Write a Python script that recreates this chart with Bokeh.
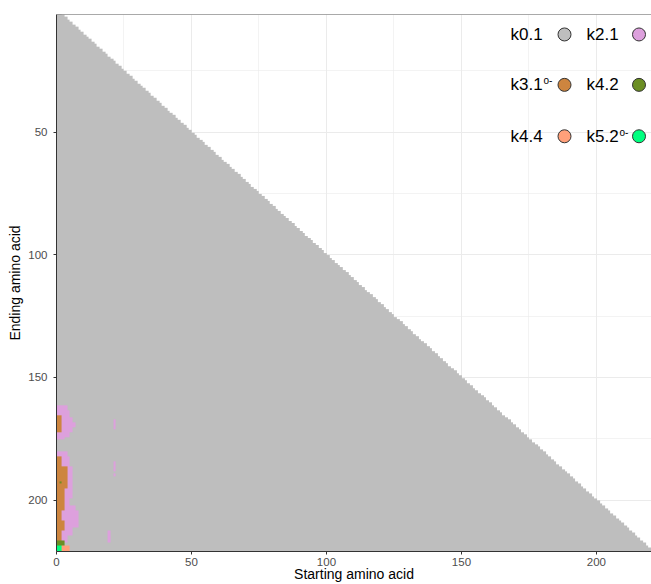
import numpy as np
from bokeh.plotting import figure
from bokeh.models import Range1d, FixedTicker, Span
from bokeh.core.properties import value
from bokeh.embed import file_html
from bokeh.resources import INLINE

# ---------------- data ----------------
seq_length = 221                      # residues; every (start <= end) cell is a fragment
class_labels = ["k0.1", "k2.1", "k3.1", "k4.2", "k4.4", "k5.2"]
class_superscripts = ["", "", "o-", "", "", "o-"]
class_colors = ["#BEBEBE", "#DDA0DD", "#CD853F", "#6B8E23", "#FFA07A", "#00FF7F"]

# blocks of cells (start from..to, end from..to) assigned to a class, painted in order
block_class = [1, 1, 1, 1, 1, 1, 1,
               1, 1, 1, 1, 1, 1, 1, 1, 1,
               1, 1, 1, 1,
               2, 2, 2, 2, 2, 2, 2, 2,
               3, 3, 4, 5]
block_start_from = [1, 1, 1, 1, 1, 1, 1,
                    1, 1, 1, 1, 1, 1, 1, 1, 1,
                    22, 22, 22, 20,
                    1, 1, 1, 1, 1, 1, 1, 1,
                    2, 1, 3, 1]
block_start_to = [4, 5, 6, 7, 6, 5, 3,
                  4, 5, 6, 6, 5, 7, 8, 6, 4,
                  22, 22, 22, 20,
                  2, 2, 4, 3, 3, 2, 3, 2,
                  2, 3, 5, 2]
block_end_from = [162, 164, 167, 169, 171, 173, 175,
                  181, 183, 187, 196, 200, 203, 205, 212, 215,
                  168, 185, 190, 213,
                  166, 183, 187, 196, 199, 205, 209, 213,
                  193, 217, 219, 219]
block_end_to = [163, 166, 168, 170, 172, 174, 175,
                182, 186, 195, 199, 202, 204, 211, 214, 217,
                171, 188, 190, 217,
                172, 186, 195, 198, 204, 208, 212, 216,
                193, 218, 221, 221]

x_tick_values = [0, 50, 100, 150, 200]
x_minor_values = [25, 75, 125, 175]
y_tick_values = [50, 100, 150, 200]
y_minor_values = [25, 75, 125, 175]

# ---------------- build the cell matrix ----------------
N = seq_length
cls = np.full((N, N), -1, dtype=int)          # rows: end-1, cols: start-1
starts, ends = np.meshgrid(np.arange(1, N + 1), np.arange(1, N + 1))
cls[starts <= ends] = 0
for c, s0, s1, e0, e1 in zip(block_class, block_start_from, block_start_to,
                             block_end_from, block_end_to):
    cls[e0 - 1:e1, s0 - 1:s1] = c

def hex_rgb(h):
    h = h.lstrip("#")
    return [int(h[i:i + 2], 16) for i in (0, 2, 4)]

rgba = np.zeros((N, N, 4), dtype=np.uint8)
for i, col in enumerate(class_colors):
    m = cls == i
    rgba[m, :3] = hex_rgb(col)
    rgba[m, 3] = 255
img = rgba.view(dtype=np.uint32).reshape((N, N))

# ---------------- figure ----------------
W, H = 651, 584
FL, FT = 56, 14
x_end = 220.4
y_top = 2
p = figure(width=W, height=H, x_range=Range1d(0, x_end), y_range=Range1d(N, y_top),
           output_backend="svg", toolbar_location=None,
           min_border_left=FL, min_border_right=0, min_border_top=FT, min_border_bottom=0)
p.background_fill_color = "white"
p.border_fill_color = "white"
p.outline_line_color = None

p.image_rgba(image=[img], x=0, y=0, dw=N, dh=N)

# axes
font = "Liberation Sans"
for ax, ticks, minors in ((p.xaxis, x_tick_values, x_minor_values),
                          (p.yaxis, y_tick_values, y_minor_values)):
    ax.ticker = FixedTicker(ticks=ticks, minor_ticks=minors)
    ax.axis_line_color = "#333333"
    ax.axis_line_width = 1
    ax.major_tick_line_color = "#333333"
    ax.major_tick_out = 3
    ax.major_tick_in = 0
    ax.minor_tick_line_color = None
    ax.major_label_text_font = font
    ax.major_label_text_font_size = "11.5px"
    ax.major_label_text_color = "#4D4D4D"
    ax.axis_label_text_font = font
    ax.axis_label_text_font_size = "14px"
    ax.axis_label_text_font_style = "normal"
    ax.axis_label_text_color = "black"
p.xaxis.axis_label = "Starting amino acid"
p.yaxis.axis_label = "Ending amino acid"
p.xaxis.major_label_standoff = 2
p.xaxis.axis_label_standoff = -3
p.yaxis.major_label_standoff = 5
p.yaxis.axis_label_standoff = 2

for g in (p.xgrid, p.ygrid):
    g.grid_line_color = "#EBEBEB"
    g.grid_line_width = 1
    g.minor_grid_line_color = "#EBEBEB"
    g.minor_grid_line_width = 0.6
p.xgrid.ticker = FixedTicker(ticks=x_tick_values, minor_ticks=x_minor_values)
p.ygrid.ticker = FixedTicker(ticks=y_tick_values, minor_ticks=y_minor_values)

p.add_layout(Span(location=y_top, dimension="width", line_color="#555555", line_width=1))

# ---------------- legend (label left of key) ----------------
frame_w = W - FL
frame_h = 538
def px_to_x(X):
    return (X - FL) * x_end / frame_w
def px_to_y(Y):
    return y_top + (Y - FT) * (N - y_top) / frame_h

row_px = [34, 84.5, 136]
label_px = [510, 586]
key_px = [564, 638.5]
lx, ly, kx, sx, sy, stext = [], [], [], [], [], []
for i, lab in enumerate(class_labels):
    r, c = divmod(i, 2)
    lx.append(px_to_x(label_px[c]))
    ly.append(px_to_y(row_px[r]))
    kx.append(px_to_x(key_px[c]))
    if class_superscripts[i]:
        sx.append(px_to_x(label_px[c] + 33))
        sy.append(px_to_y(row_px[r] - 4))
        stext.append(class_superscripts[i])

p.text(x=lx, y=ly, text=class_labels, text_font=value(font), text_font_size="17px",
       text_baseline="middle", text_align="left", text_color="black")
p.text(x=sx, y=sy, text=stext, text_font=value(font), text_font_size="10px",
       text_baseline="middle", text_align="left", text_color="black")
p.scatter(x=kx, y=ly, size=13, fill_color=class_colors, line_color="#333333", line_width=1)

open("out.html", "w").write(file_html(p, INLINE))
